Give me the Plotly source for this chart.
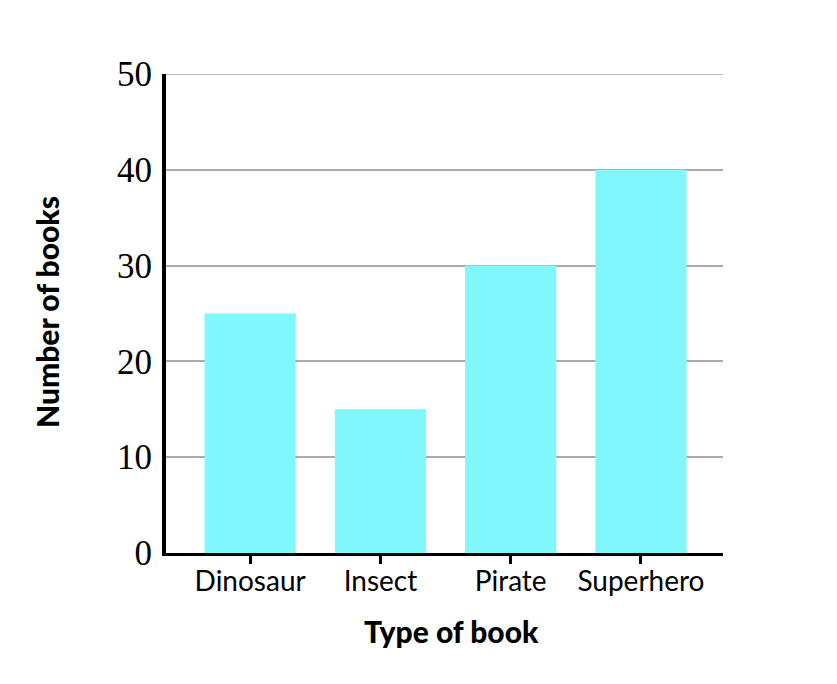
import plotly.graph_objects as go

categories = ["Dinosaur", "Insect", "Pirate", "Superhero"]
books = [25, 15, 30, 40]
y_ticks = [0, 10, 20, 30, 40, 50]
y_max = 50

W, H = 837, 684
OFF = 8  # page body margin
L, T = 166 - OFF, 74 - OFF
R = W - (723 - OFF)
B = H - (553 - OFF)

fig = go.Figure()
fig.add_trace(go.Bar(x=categories, y=books, width=0.7,
                     marker=dict(color="#80F8FB", line=dict(width=0))))

pw = W - L - R
ph = H - T - B

def px_to_paper(x, y):
    return (x - OFF - L) / pw, (H - (y - OFF) - B) / ph

tx, ty = px_to_paper(451, 631)
yx, yy = px_to_paper(47, 312)

fig.update_layout(
    width=W, height=H,
    margin=dict(l=L, r=R, t=T, b=B),
    paper_bgcolor="white", plot_bgcolor="white",
    showlegend=False,
    xaxis=dict(
        type="category", range=[-0.646, 3.63],
        showline=True, linecolor="black", linewidth=3,
        ticks="outside", ticklen=8, tickwidth=3, tickcolor="black",
        ticklabelstandoff=-7,
        tickfont=dict(family="Lato", size=28, color="black"),
        showgrid=False, zeroline=False, fixedrange=True,
    ),
    yaxis=dict(
        range=[0, y_max], tickvals=y_ticks,
        showline=True, linecolor="black", linewidth=4,
        ticks="", ticklabelstandoff=3,
        tickfont=dict(family="Liberation Serif", size=35, color="black"),
        showgrid=True, gridcolor="#aaaaaa", gridwidth=1.5,
        zeroline=False, fixedrange=True, layer="below traces",
    ),
    shapes=[dict(type="line", xref="paper", yref="y", x0=0, x1=1, y0=y_max, y1=y_max,
                 line=dict(color="#aaaaaa", width=1.5), layer="below")],
    annotations=[
        dict(text="Type of book", x=tx, y=ty, xref="paper", yref="paper",
             xanchor="center", yanchor="middle", showarrow=False,
             font=dict(family="Lato", size=30, color="black", weight=900)),
        dict(text="Number of books", x=yx, y=yy, xref="paper", yref="paper",
             xanchor="center", yanchor="middle", textangle=-90, showarrow=False,
             font=dict(family="Lato", size=30, color="black", weight=900)),
    ],
)
fig.write_html("out.html")
